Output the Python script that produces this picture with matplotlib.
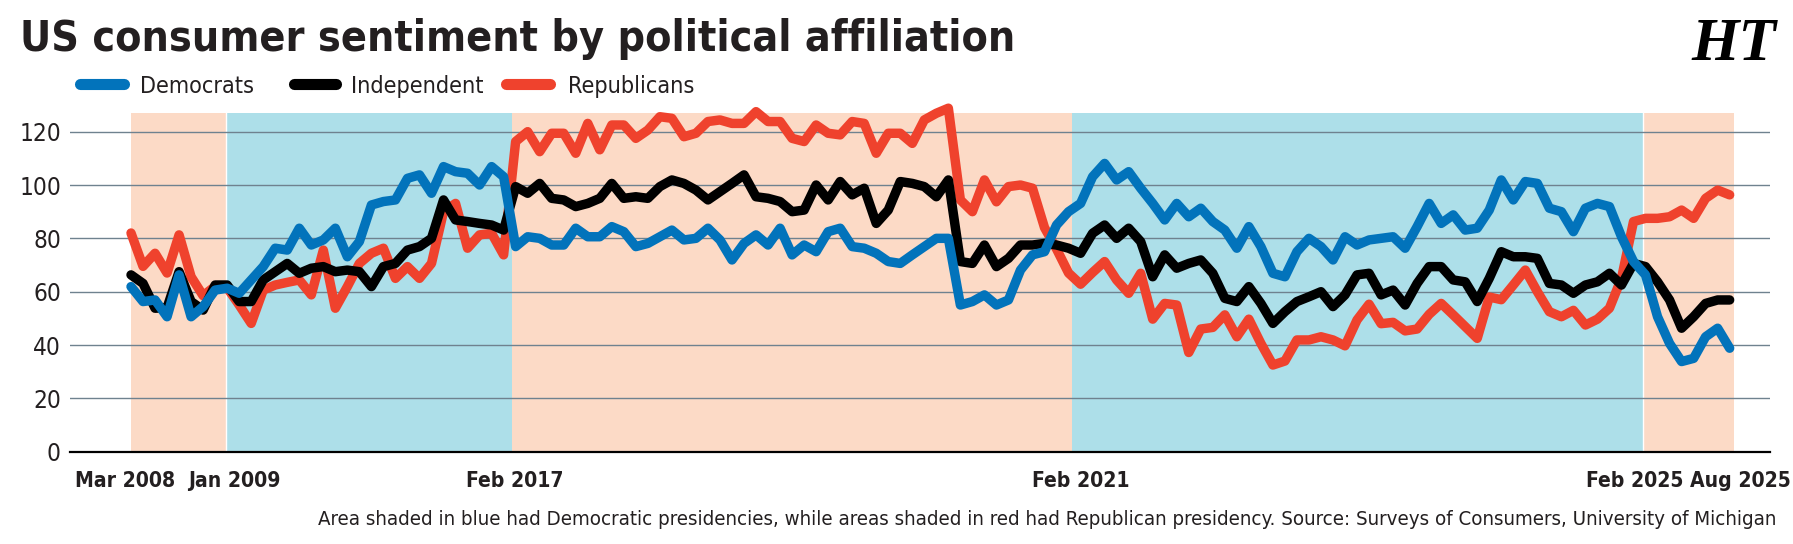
import numpy as np
import matplotlib
matplotlib.use("Agg")
import matplotlib.pyplot as plt
from matplotlib import font_manager
from matplotlib.font_manager import FontProperties
from matplotlib.lines import Line2D
import matplotlib.transforms as mtransforms

# ---------------- data ----------------
democrats = [
    61.9, 56.3, 56.9, 50.6, 66.3, 50.6, 54.4, 60.6, 61.3, 59.4,
    64.4, 69.4, 76.3, 75.6, 83.8, 77.5, 79.4, 83.8, 73.1, 78.8,
    92.5, 93.8, 94.4, 102.5, 103.8, 96.9, 106.9, 105.0, 104.4, 100.0,
    106.9, 103.1, 76.9, 80.6, 80.0,
    77.5, 77.5, 83.8, 80.6, 80.6, 84.4, 82.5, 76.9, 78.1, 80.6,
    83.1, 79.4, 80.0, 83.8, 79.4, 71.9, 78.1, 81.3, 77.5, 83.8,
    73.8, 77.5, 75.0, 82.5, 83.8, 76.9, 76.3, 74.4, 71.3, 70.6,
    73.8, 76.9, 80.0, 80.0,
    55.0, 56.3, 58.8, 55.0, 56.9, 68.1, 73.8, 75.0, 85.0, 90.0,
    93.1, 103.1, 108.1, 101.9, 105.0, 98.8, 93.1, 86.9, 93.1, 88.1,
    91.3, 86.3, 83.1, 76.3, 84.4, 76.9, 66.9, 65.6, 75.0, 80.0,
    76.9, 71.9, 80.6, 77.5,
    79.4, 80.0, 80.6, 76.3, 84.4, 93.1, 85.6, 88.8, 83.1, 83.8,
    90.6, 101.9, 94.4, 101.3, 100.6, 91.3, 90.0, 82.5, 91.3, 93.1,
    91.9, 80.6, 71.3, 66.3, 50.6, 40.6, 33.8, 35.0, 43.1, 46.3, 38.8,
]
independent = [
    66.3, 63.1, 53.8, 54.0, 67.5, 56.3, 53.1, 62.5, 62.5, 56.3,
    56.3, 64.4, 67.5, 70.6, 66.9, 68.8, 69.4, 67.5, 68.1, 67.5,
    61.9, 69.4, 70.6, 75.6, 76.9, 80.0, 94.4, 86.9, 86.3, 85.6,
    85.0, 83.1, 99.4, 96.9, 100.6,
    95.0, 94.4, 91.9, 93.1, 95.0, 100.6, 95.0, 95.6, 95.0, 99.4,
    101.9, 100.6, 98.1, 94.4, 97.5, 100.6, 103.8, 95.6, 95.0, 93.8,
    90.0, 90.6, 100.0, 94.4, 101.3, 96.3, 98.8, 85.6, 90.6, 101.3,
    100.6, 99.4, 95.6, 101.9,
    71.3, 70.6, 77.5, 69.4, 72.5, 77.5, 77.5, 78.1, 77.5, 76.3,
    74.4, 81.9, 85.0, 80.0, 83.8, 78.8, 65.6, 73.8, 68.8, 70.6,
    71.9, 66.9, 57.5, 56.3, 61.9, 55.6, 48.1, 52.5, 56.3, 58.1,
    60.0, 54.4, 58.8, 66.3,
    66.9, 58.8, 60.6, 55.0, 63.1, 69.4, 69.4, 64.4, 63.7, 56.3,
    65.0, 75.0, 73.1, 73.1, 72.5, 63.1, 62.5, 59.4, 62.5, 63.7,
    66.9, 62.5, 70.6, 69.4, 63.7, 56.9, 46.3, 50.6, 55.6, 56.9, 56.9,
]
republicans = [
    82.0, 69.5, 74.4, 67.0, 81.3, 65.6, 58.5, 62.0, 61.5, 55.0,
    48.1, 60.6, 62.5, 63.5, 64.4, 58.8, 75.6, 53.8, 61.9, 70.6,
    74.4, 76.3, 65.0, 69.4, 65.0, 70.6, 90.0, 93.1, 76.3, 81.3,
    81.9, 73.8, 116.3, 120.0, 112.5,
    119.4, 119.4, 111.9, 123.1, 113.2, 122.5, 122.5, 117.5, 120.6, 125.6,
    125.0, 118.1, 119.4, 123.8, 124.4, 123.1, 123.1, 127.5, 123.8, 123.8,
    117.5, 116.3, 122.5, 119.4, 118.8, 123.8, 123.1, 111.9, 119.4, 119.4,
    115.6, 124.4, 126.9, 128.8,
    94.4, 90.0, 101.9, 93.7, 99.4, 100.0, 98.8, 84.0, 76.0, 67.0,
    62.8, 67.2, 71.3, 64.4, 59.4, 66.9, 49.7, 55.6, 55.0, 37.2,
    46.0, 46.6, 51.3, 43.1, 49.7, 40.6, 32.5, 34.0, 41.9, 41.9,
    43.1, 41.9, 39.7, 49.4,
    55.3, 48.0, 48.5, 45.3, 46.0, 51.5, 55.6, 51.3, 46.9, 42.5,
    58.0, 57.0, 62.5, 68.1, 60.0, 52.5, 50.6, 53.0, 47.5, 49.7,
    53.8, 65.0, 86.3, 87.5, 87.5, 88.1, 90.6, 87.5, 95.0, 98.1, 96.3,
]
series_names = ["Democrats", "Independent", "Republicans"]
tick_labels = ["Mar 2008", "Jan 2009", "Feb 2017", "Feb 2021", "Feb 2025", "Aug 2025"]
tick_pos = [-0.5, 8.6, 31.9, 79.0, 125.1, 133.9]
term_edges = [0, 7.9, 31.7, 78.3, 125.8, 133.4]
term_party = ["R", "D", "R", "D", "R"]
y_ticks = [0, 20, 40, 60, 80, 100, 120]

title = "US consumer sentiment by political affiliation"
note = ("Area shaded in blue had Democratic presidencies, while areas shaded in red had "
        "Republican presidency. Source: Surveys of Consumers, University of Michigan")

# ---------------- style ----------------
W, H = 1793, 544
C_BLUE = "#0273bb"
C_BLACK = "#000000"
C_RED = "#ef422d"
C_SHADE_R = "#fcdac6"
C_SHADE_D = "#addfe9"
C_GRID = "#6f828f"
C_TEXT = "#231f20"


def find_narrow():
    """Look for an installed condensed / narrow sans family (regular + bold files)."""
    order = {"condensed": 0, "semi-condensed": 1, "extra-condensed": 2, "ultra-condensed": 3}
    best = {}
    for f in font_manager.fontManager.ttflist:
        nm = f.name.lower()
        st = str(f.stretch).lower()
        narrow = ("narrow" in nm or "condensed" in nm or st in order)
        if not narrow or "mono" in nm or "serif" in nm and "sans" not in nm:
            continue
        if f.style != "normal":
            continue
        key = (f.name, st)
        w = f.weight if isinstance(f.weight, int) else (700 if "bold" in str(f.weight) else 400)
        slot = best.setdefault(key, {})
        if 350 <= w <= 450:
            slot["regular"] = f.fname
        elif 650 <= w <= 750:
            slot["bold"] = f.fname
    cands = [(order.get(k[1], 0 if ("narrow" in k[0].lower() or "condensed" in k[0].lower()) else 5), k, v)
             for k, v in best.items() if "regular" in v and "bold" in v]
    if not cands:
        return None
    cands.sort(key=lambda c: (c[0], 0 if "liberation" in c[1][0].lower() else 1))
    return cands[0][2]


nf = find_narrow()
if nf:
    FP_REG = FontProperties(fname=nf["regular"])
    FP_BOLD = FontProperties(fname=nf["bold"])
else:
    FP_REG = FontProperties(family="Roboto", weight="normal")
    FP_BOLD = FontProperties(family="Roboto", weight="bold")

available = {f.name for f in font_manager.fontManager.ttflist}
SERIF = "Liberation Serif" if "Liberation Serif" in available else "DejaVu Serif"

fig = plt.figure(figsize=(W / 100, H / 100), dpi=100)
fig.patch.set_facecolor("white")

ax_left, ax_right = 70, 1770
y0_px, ytop_px = 451.7, 113.0
ax = fig.add_axes([ax_left / W, 1 - y0_px / H, (ax_right - ax_left) / W, (y0_px - ytop_px) / H])

x0_px, dx_px = 131.0, 12.02
ax.set_xlim((ax_left - x0_px) / dx_px, (ax_right - x0_px) / dx_px)
ax.set_ylim(0, 127)

x = np.arange(len(democrats))
assert len(democrats) == len(independent) == len(republicans)

for (a, b), p in zip(zip(term_edges[:-1], term_edges[1:]), term_party):
    ax.axvspan(a, b, color=C_SHADE_R if p == "R" else C_SHADE_D, lw=0, zorder=0.2)
for e in (term_edges[1], term_edges[4]):
    ax.axvline(e, color="white", lw=1.0, zorder=0.3)

ax.set_axisbelow(True)
ax.set_yticks(y_ticks)
ax.set_yticklabels([str(v) for v in y_ticks])
ax.yaxis.grid(True, color=C_GRID, lw=1.0)
ax.set_xticks([])
for s in ("top", "right", "left"):
    ax.spines[s].set_visible(False)
ax.spines["bottom"].set_color("black")
ax.spines["bottom"].set_linewidth(1.6)
ax.spines["bottom"].set_zorder(6)
ax.tick_params(axis="y", length=0, pad=6.5, labelcolor=C_TEXT)
for lab in ax.get_yticklabels():
    lab.set_fontproperties(FP_REG)
    lab.set_fontsize(17.5)

LW = 6.8
for vals, col, z in ((republicans, C_RED, 3), (independent, C_BLACK, 4), (democrats, C_BLUE, 5)):
    ax.plot(x, vals, color=col, lw=LW, solid_joinstyle="round", solid_capstyle="round",
            zorder=z, clip_on=False)

renderer = fig.canvas.get_renderer()


def fit_width(t, target):
    for _ in range(4):
        bb = t.get_window_extent(renderer)
        if bb.width > 0:
            t.set_fontsize(t.get_fontsize() * target / bb.width)
    return t.get_fontsize()


# title
tt = fig.text(20 / W, 1 - 51.5 / H, title, ha="left", va="baseline",
              fontproperties=FP_BOLD, color=C_TEXT)
tt.set_fontsize(38)
fit_width(tt, 995)

# HT mark
fig.text(1776 / W, 1 - 60 / H, "HT", ha="right", va="baseline", family=SERIF,
         weight="bold", style="italic", size=44, color="black")

# legend
leg_y = 1 - 84 / H
samples = [(74, 130, C_BLUE, 140), (288, 342, C_BLACK, 351), (500, 556, C_RED, 568)]
leg_lw = 8.0
cap = leg_lw * 100 / 72 / 2
t0 = fig.text(samples[0][3] / W, 1 - 93.3 / H, series_names[0], ha="left", va="baseline",
              fontproperties=FP_REG, color=C_TEXT)
t0.set_fontsize(22)
lsize = fit_width(t0, 114)
for i, (a, b, col, tx) in enumerate(samples):
    fig.add_artist(Line2D([(a + cap) / W, (b - cap) / W], [leg_y, leg_y], transform=fig.transFigure,
                          color=col, lw=leg_lw, solid_capstyle="round"))
    if i > 0:
        t = fig.text(tx / W, 1 - 93.3 / H, series_names[i], ha="left", va="baseline",
                     fontproperties=FP_REG, color=C_TEXT)
        t.set_fontsize(lsize)

# x labels
trans = mtransforms.blended_transform_factory(ax.transData, fig.transFigure)
xl = []
for p, lab in zip(tick_pos, tick_labels):
    t = ax.text(p, 1 - 486.7 / H, lab, transform=trans, ha="center", va="baseline",
                fontproperties=FP_BOLD, color=C_TEXT)
    t.set_fontsize(19)
    xl.append(t)
xs = fit_width(xl[0], 100)
for t in xl[1:]:
    t.set_fontsize(xs)

# footnote
ft = fig.text(1776 / W, 1 - 525 / H, note, ha="right", va="baseline",
              fontproperties=FP_REG, color=C_TEXT)
ft.set_fontsize(17)
fit_width(ft, 1460)

fig.savefig("out.png", dpi=100, facecolor="white")
